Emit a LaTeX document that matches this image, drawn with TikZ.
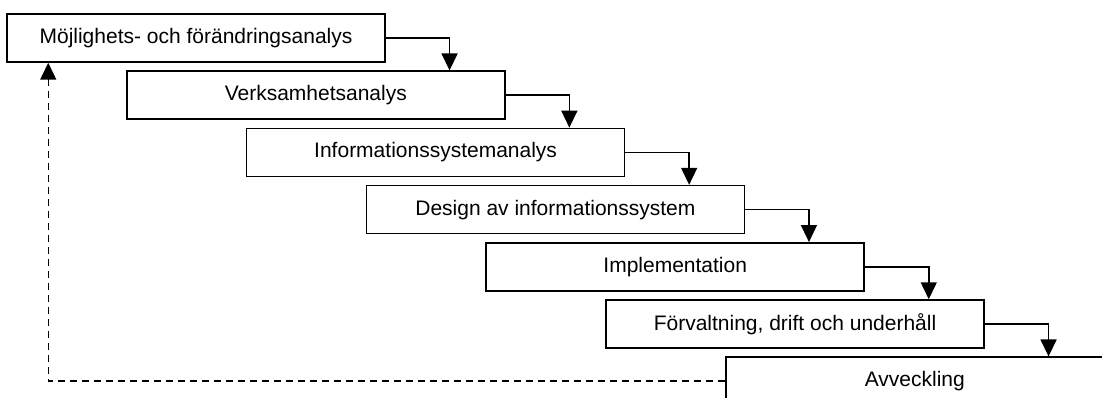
\documentclass[tikz,border=0pt]{standalone}
\usepackage{fontspec}
\setmainfont{Liberation Sans}
\usetikzlibrary{arrows.meta}

\begin{document}
\begin{tikzpicture}[x=1pt, y=-1pt,
    phase/.style={draw, line width=1.5pt, minimum width=378pt, minimum height=48pt,
        inner sep=0pt, font=\fontsize{21}{24}\selectfont},
    flow/.style={line width=1.5pt, -{Triangle[width=16pt,length=17pt]}}]
    \useasboundingbox (0,0) rectangle (1102,398);
    \clip (0,0) rectangle (1102,398);

    \path (196, 38) node [phase] (moj) {Möjlighets- och förändringsanalys};
    \path (315.8, 95.2) node [phase] (ver) {Verksamhetsanalys};
    \path (435.6, 152.4) node [phase] (isa) {Informationssystemanalys};
    \path (555.4, 209.6) node [phase] (des) {Design av informationssystem};
    \path (675.2, 266.8) node [phase] (imp) {Implementation};
    \path (795, 324) node [phase] (fdu) {Förvaltning, drift och underhåll};
    \path (914.8, 381.2) node [phase] (avv) {Avveckling};

    % steg till nästa fas
    \draw [flow] (moj.east) -| ([xshift=-56pt]ver.north east);
    \draw [flow] (ver.east) -| ([xshift=-56pt]isa.north east);
    \draw [flow] (isa.east) -| ([xshift=-56pt]des.north east);
    \draw [flow] (des.east) -| ([xshift=-56pt]imp.north east);
    \draw [flow] (imp.east) -| ([xshift=-56pt]fdu.north east);
    \draw [flow] (fdu.east) -| ([xshift=-56pt]avv.north east);

    % tillbaka till början
    \draw [flow, dash pattern=on 7pt off 5pt] (avv.west) -| ([xshift=42pt]moj.south west);
\end{tikzpicture}
\end{document}
